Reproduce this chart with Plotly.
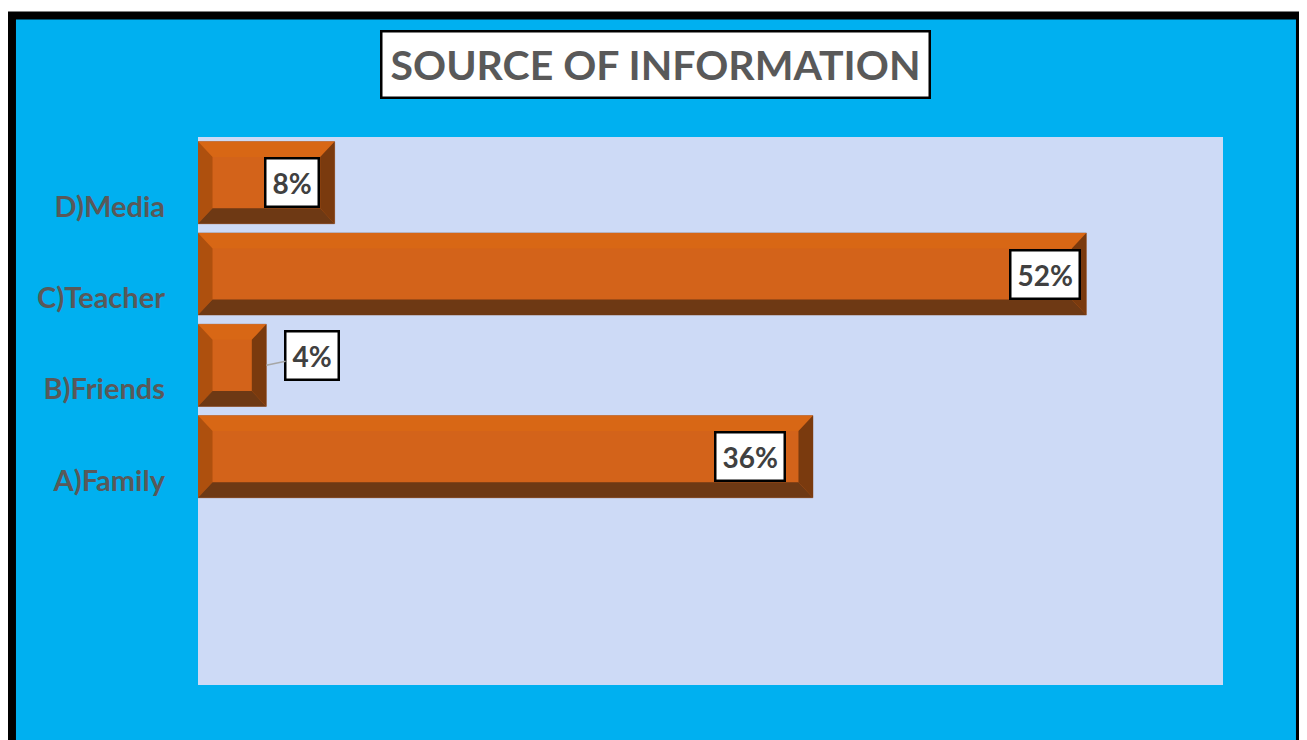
import plotly.graph_objects as go

# data (bottom to top, as drawn)
categories = ["A)Family", "B)Friends", "C)Teacher", "D)Media"]
shares = [36, 4, 52, 8]
labels = ["36%", "4%", "52%", "8%"]

positions = list(range(len(categories)))

FONT = "Lato, 'Open Sans', sans-serif"
BAR_W = 0.9
DX = 0.85   # bevel depth along x (data units)
DY = 0.17   # bevel depth along y (data units)

fig = go.Figure()

# main bar face
fig.add_trace(go.Bar(
    x=shares, y=positions, orientation="h", width=BAR_W,
    marker=dict(color="#D3631A", line=dict(color="rgba(150,110,90,0.6)", width=1)),
    hoverinfo="skip", showlegend=False,
))


def bevel(side):
    xs, ys = [], []
    for p, v in zip(positions, shares):
        yb, yt = p - BAR_W / 2, p + BAR_W / 2
        x0, x1 = 0, v
        if side == "left":
            pts = [(x0, yb), (x0, yt), (x0 + DX, yt - DY), (x0 + DX, yb + DY)]
        elif side == "right":
            pts = [(x1, yb), (x1, yt), (x1 - DX, yt - DY), (x1 - DX, yb + DY)]
        elif side == "bottom":
            pts = [(x0, yb), (x1, yb), (x1 - DX, yb + DY), (x0 + DX, yb + DY)]
        else:
            pts = [(x0, yt), (x1, yt), (x1 - DX, yt - DY), (x0 + DX, yt - DY)]
        pts.append(pts[0])
        xs += [q[0] for q in pts] + [None]
        ys += [q[1] for q in pts] + [None]
    return xs, ys


for side, col in [("top", "#D86715"), ("left", "#AE500E"),
                  ("right", "#7A3A0E"), ("bottom", "#6E3914")]:
    bx, by = bevel(side)
    fig.add_trace(go.Scatter(
        x=bx, y=by, mode="lines", fill="toself", fillcolor=col,
        line=dict(width=0), hoverinfo="skip", showlegend=False,
    ))

# value labels (offset from bar end, data units)
label_dx = [-3.7, 2.7, -2.4, -2.5]
for p, v, t, d in zip(positions, shares, labels, label_dx):
    common = dict(
        text=t, font=dict(family=FONT, size=28, color="#404040", weight="bold"),
        bgcolor="white", bordercolor="black", borderwidth=2.5, borderpad=6,
        xanchor="center", yanchor="middle",
    )
    if d > 0:
        fig.add_annotation(x=v, y=p, showarrow=True, arrowhead=0, arrowwidth=1.5,
                           arrowcolor="#A6A6A6", ax=46, ay=-10, standoff=0, **common)
    else:
        fig.add_annotation(x=v + d, y=p, showarrow=False, **common)

# frame and plot background
fig.add_shape(type="rect", xref="paper", yref="paper",
              x0=-0.1815, x1=1.0751, y0=-0.15, y1=1.2217,
              fillcolor="#00B0F0", line=dict(color="black", width=8), layer="below")
fig.add_shape(type="rect", xref="paper", yref="paper", x0=0, x1=1, y0=0, y1=1,
              fillcolor="#CDDAF6", line=dict(width=0), layer="below")

# title box
fig.add_annotation(
    xref="paper", yref="paper", x=0.4468, y=1.1323,
    text="SOURCE OF INFORMATION", showarrow=False,
    font=dict(family=FONT, size=41, color="#595959", weight="bold"),
    bgcolor="white", bordercolor="black", borderwidth=2.5,
    width=544, height=62, xanchor="center", yanchor="middle",
)

# page body has an 8px margin, so the figure is drawn 8px smaller
fig.update_layout(
    width=1299, height=732,
    margin=dict(l=190, r=84, t=129, b=55),
    paper_bgcolor="white", plot_bgcolor="rgba(0,0,0,0)",
    barmode="overlay",
    xaxis=dict(range=[0, 60], visible=False, fixedrange=True),
    yaxis=dict(
        range=[-2.5, 3.5], tickvals=[p - 0.26 for p in positions], ticktext=categories,
        showgrid=False, zeroline=False, showline=False, ticks="",
        ticklabelstandoff=32,
        tickfont=dict(family=FONT, size=29, color="#595959", weight="bold"),
    ),
)

fig.write_html("out.html")
